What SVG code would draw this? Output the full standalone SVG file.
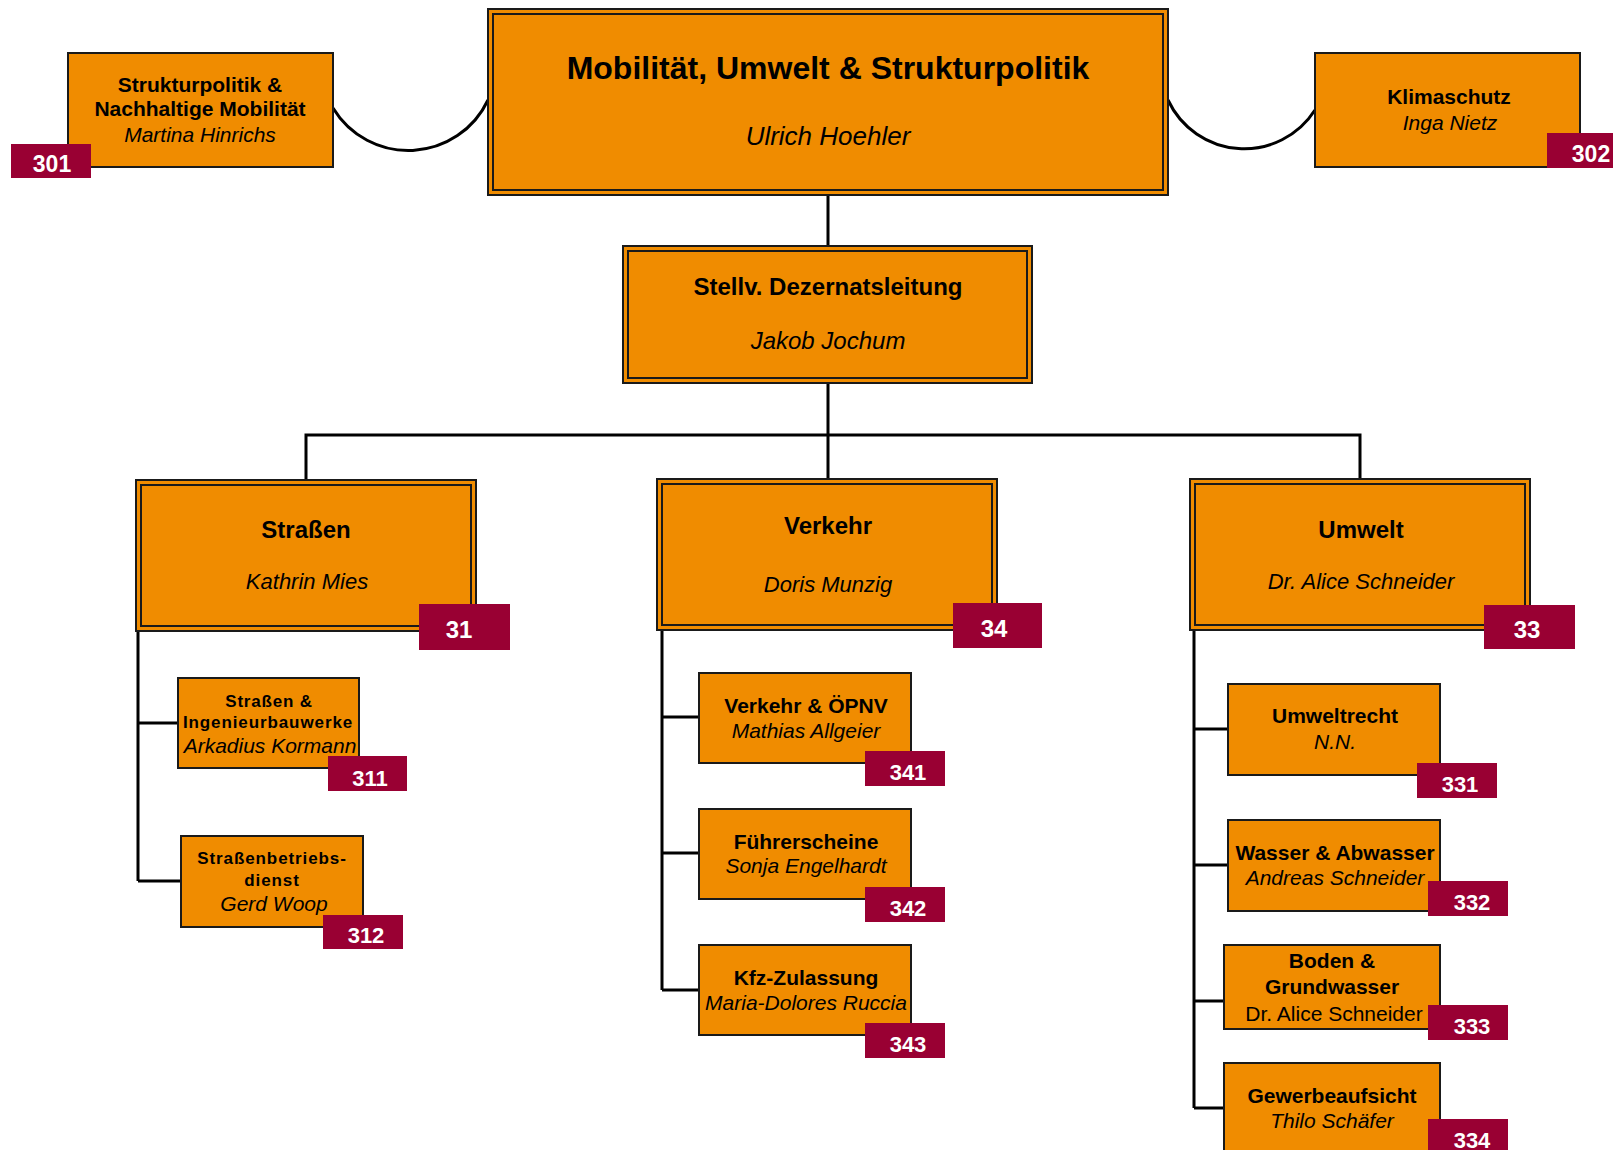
<svg xmlns="http://www.w3.org/2000/svg" width="1613" height="1150" viewBox="0 0 1613 1150">
<style>
.box{fill:#F08C00;stroke:#1a1a1a;stroke-width:2}
.inner{fill:none;stroke:#1a1a1a;stroke-width:2}
.badge{fill:#990033}
.conn{fill:none;stroke:#000;stroke-width:3}
text{font-family:"Liberation Sans",Arial,sans-serif;text-anchor:middle;fill:#000}
.b{font-weight:bold}
.i{font-style:italic}
.n{fill:#fff;font-weight:bold}
.s21{font-size:21px}
.s24{font-size:24px}
.s17{font-size:17px}
</style>
<rect x="0" y="0" width="1613" height="1150" fill="#fff"/>
<g id="connectors">
<path class="conn" d="M333 108 A88 88 0 0 0 488 100"/>
<path class="conn" d="M1168 100 A84 84 0 0 0 1315 110"/>
<path class="conn" d="M828 196 V247 M828 383 V480"/>
<path class="conn" d="M306 480 V435 H1360 V480"/>
<path class="conn" d="M138 631 V881 M138 723 H178 M138 881 H181"/>
<path class="conn" d="M662 630 V990 M662 717 H699 M662 853 H699 M662 990 H699"/>
<path class="conn" d="M1194 630 V1108 M1194 729 H1228 M1194 865 H1228 M1194 1001 H1224 M1194 1108 H1224"/>
</g>
<g id="n301">
<rect class="box" x="68" y="53" width="265" height="114"/>
<text class="b s21" x="200" y="92">Strukturpolitik &amp;</text>
<text class="b s21" x="200" y="116">Nachhaltige Mobilität</text>
<text class="i s21" x="200" y="142">Martina Hinrichs</text>
<rect class="badge" x="11" y="144" width="80" height="34"/>
<text class="n" style="font-size:23px" x="52" y="172">301</text>
</g>
<g id="n302">
<rect class="box" x="1315" y="53" width="265" height="114"/>
<text class="b s21" x="1449" y="104">Klimaschutz</text>
<text class="i s21" x="1450" y="130">Inga Nietz</text>
<rect class="badge" x="1547" y="133" width="70" height="35"/>
<text class="n" style="font-size:23px" x="1591" y="162">302</text>
</g>
<g id="main">
<rect class="box" x="488" y="9" width="680" height="186"/>
<rect class="inner" x="493" y="14" width="670" height="176"/>
<text class="b" style="font-size:32px" x="828" y="79">Mobilität, Umwelt &amp; Strukturpolitik</text>
<text class="i" style="font-size:26px" x="828" y="145">Ulrich Hoehler</text>
</g>
<g id="stellv">
<rect class="box" x="623" y="246" width="409" height="137"/>
<rect class="inner" x="628" y="251" width="399" height="127"/>
<text class="b s24" x="828" y="295">Stellv. Dezernatsleitung</text>
<text class="i s24" x="828" y="349">Jakob Jochum</text>
</g>
<g id="n31">
<rect class="box" x="136" y="480" width="340" height="151"/>
<rect class="inner" x="141" y="485" width="330" height="141"/>
<text class="b s24" x="306" y="538">Straßen</text>
<text class="i" style="font-size:22px" x="307" y="589">Kathrin Mies</text>
<rect class="badge" x="419" y="604" width="91" height="46"/>
<text class="n s24" x="459" y="638">31</text>
</g>
<g id="n34">
<rect class="box" x="657" y="479" width="340" height="151"/>
<rect class="inner" x="662" y="484" width="330" height="141"/>
<text class="b s24" x="828" y="534">Verkehr</text>
<text class="i" style="font-size:22px" x="828" y="592">Doris Munzig</text>
<rect class="badge" x="953" y="603" width="89" height="45"/>
<text class="n s24" x="994" y="637">34</text>
</g>
<g id="n33">
<rect class="box" x="1190" y="479" width="340" height="151"/>
<rect class="inner" x="1195" y="484" width="330" height="141"/>
<text class="b s24" x="1361" y="538">Umwelt</text>
<text class="i" style="font-size:22px" x="1361" y="589">Dr. Alice Schneider</text>
<rect class="badge" x="1484" y="605" width="91" height="44"/>
<text class="n s24" x="1527" y="638">33</text>
</g>
<g id="n311">
<rect class="box" x="178" y="678" width="181" height="90"/>
<text class="b s17" x="269" y="707" letter-spacing="0.8">Straßen &amp;</text>
<text class="b s17" x="268" y="728" letter-spacing="0.9">Ingenieurbauwerke</text>
<text class="i s21" x="270" y="753">Arkadius Kormann</text>
<rect class="badge" x="328" y="756" width="79" height="35"/>
<text class="n" style="font-size:22px" x="370" y="786">311</text>
</g>
<g id="n312">
<rect class="box" x="181" y="836" width="182" height="91"/>
<text class="b s17" x="272" y="864" letter-spacing="0.9">Straßenbetriebs-</text>
<text class="b s17" x="272" y="886" letter-spacing="0.9">dienst</text>
<text class="i s21" x="274" y="911">Gerd Woop</text>
<rect class="badge" x="323" y="915" width="80" height="34"/>
<text class="n" style="font-size:22px" x="366" y="943">312</text>
</g>
<g id="n341">
<rect class="box" x="699" y="673" width="212" height="90"/>
<text class="b s21" x="806" y="713">Verkehr &amp; ÖPNV</text>
<text class="i s21" x="806" y="738">Mathias Allgeier</text>
<rect class="badge" x="865" y="751" width="80" height="35"/>
<text class="n" style="font-size:22px" x="908" y="780">341</text>
</g>
<g id="n342">
<rect class="box" x="699" y="809" width="212" height="90"/>
<text class="b s21" x="806" y="849">Führerscheine</text>
<text class="i s21" x="806" y="873">Sonja Engelhardt</text>
<rect class="badge" x="865" y="887" width="80" height="35"/>
<text class="n" style="font-size:22px" x="908" y="916">342</text>
</g>
<g id="n343">
<rect class="box" x="699" y="945" width="212" height="90"/>
<text class="b s21" x="806" y="985">Kfz-Zulassung</text>
<text class="i s21" x="806" y="1010">Maria-Dolores Ruccia</text>
<rect class="badge" x="865" y="1023" width="80" height="35"/>
<text class="n" style="font-size:22px" x="908" y="1052">343</text>
</g>
<g id="n331">
<rect class="box" x="1228" y="684" width="212" height="91"/>
<text class="b s21" x="1335" y="723">Umweltrecht</text>
<text class="i s21" x="1335" y="749">N.N.</text>
<rect class="badge" x="1417" y="763" width="80" height="35"/>
<text class="n" style="font-size:22px" x="1460" y="792">331</text>
</g>
<g id="n332">
<rect class="box" x="1228" y="820" width="212" height="91"/>
<text class="b s21" x="1335" y="860">Wasser &amp; Abwasser</text>
<text class="i s21" x="1335" y="885">Andreas Schneider</text>
<rect class="badge" x="1428" y="881" width="80" height="35"/>
<text class="n" style="font-size:22px" x="1472" y="910">332</text>
</g>
<g id="n333">
<rect class="box" x="1224" y="945" width="216" height="84"/>
<text class="b s21" x="1332" y="968">Boden &amp;</text>
<text class="b s21" x="1332" y="994">Grundwasser</text>
<text class="s21" x="1334" y="1021">Dr. Alice Schneider</text>
<rect class="badge" x="1428" y="1005" width="80" height="35"/>
<text class="n" style="font-size:22px" x="1472" y="1034">333</text>
</g>
<g id="n334">
<rect class="box" x="1224" y="1063" width="216" height="100"/>
<text class="b s21" x="1332" y="1103">Gewerbeaufsicht</text>
<text class="i s21" x="1332" y="1128">Thilo Schäfer</text>
<rect class="badge" x="1428" y="1119" width="80" height="40"/>
<text class="n" style="font-size:22px" x="1472" y="1148">334</text>
</g>
</svg>
